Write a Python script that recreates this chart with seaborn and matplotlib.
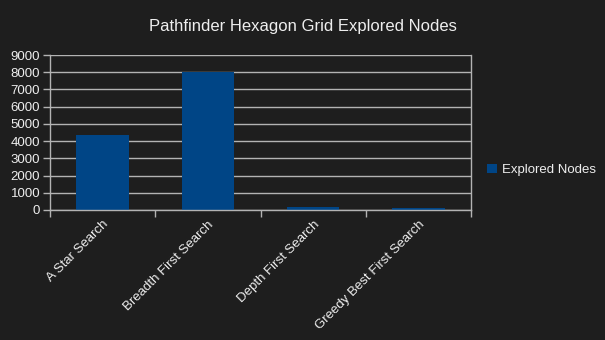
import matplotlib
matplotlib.use("Agg")
import matplotlib.pyplot as plt
import seaborn as sns
import pandas as pd
from matplotlib.patches import Patch

categories = ["A Star Search", "Breadth First Search", "Depth First Search", "Greedy Best First Search"]
explored_nodes = [4350, 8030, 190, 135]
series_name = "Explored Nodes"
y_ticks = [0, 1000, 2000, 3000, 4000, 5000, 6000, 7000, 8000, 9000]

df = pd.DataFrame({"Algorithm": categories, series_name: explored_nodes})

BG = "#1e1e1e"
GRID = "#b3b3b3"
BAR = "#004586"
TXT = "#eeeeee"

sns.set_theme(style="dark")
plt.rcParams["font.family"] = ["Liberation Sans", "DejaVu Sans"]

fig = plt.figure(figsize=(6.05, 3.4), dpi=100, facecolor=BG)
ax = fig.add_axes([50/605, 1 - 210/340, (471-50)/605, (210-55)/340])
ax.set_facecolor(BG)

sns.barplot(data=df, x="Algorithm", y=series_name, color=BAR, width=0.5, ax=ax,
            saturation=1, edgecolor="none")

ax.set_ylim(0, 9000)
ax.set_xlim(-0.5, len(categories) - 0.5)
ax.set_yticks(y_ticks)
ax.set_yticklabels([str(t) for t in y_ticks], color=TXT, fontsize=9.5)
ax.yaxis.grid(True, color=GRID, linewidth=1)
ax.xaxis.grid(False)
ax.set_axisbelow(True)

# x ticks at category boundaries
ax.set_xticks([i - 0.5 for i in range(len(categories) + 1)])
ax.set_xticklabels([])
ax.set_xticks(range(len(categories)), minor=True)
ax.set_xticklabels(categories, minor=True, rotation=45, ha="right",
                   rotation_mode="anchor", color=TXT, fontsize=9.5)
ax.tick_params(axis="x", which="major", length=5, width=1, color=GRID, direction="out", bottom=True)
ax.tick_params(axis="x", which="minor", length=0, pad=6)
ax.tick_params(axis="y", length=5, width=1, color=GRID, direction="out", left=True, pad=2)

ax.set_xlabel("")
ax.set_ylabel("")
for side in ["left", "right", "bottom"]:
    ax.spines[side].set_visible(True)
    ax.spines[side].set_color(GRID)
    ax.spines[side].set_linewidth(1)
ax.spines["top"].set_visible(False)

fig.text(0.5, 1 - 27/340, "Pathfinder Hexagon Grid Explored Nodes", ha="center", va="center",
         color=TXT, fontsize=12)

handle = Patch(facecolor=BAR, edgecolor="none", label=series_name)
leg = fig.legend(handles=[handle], loc="center left", bbox_to_anchor=(482/605, 1 - 170/340),
                 frameon=False, fontsize=9.5, handlelength=0.7, handleheight=0.7,
                 handletextpad=0.4, borderaxespad=0)
for t in leg.get_texts():
    t.set_color(TXT)

fig.savefig("out.png", dpi=100, facecolor=BG)
